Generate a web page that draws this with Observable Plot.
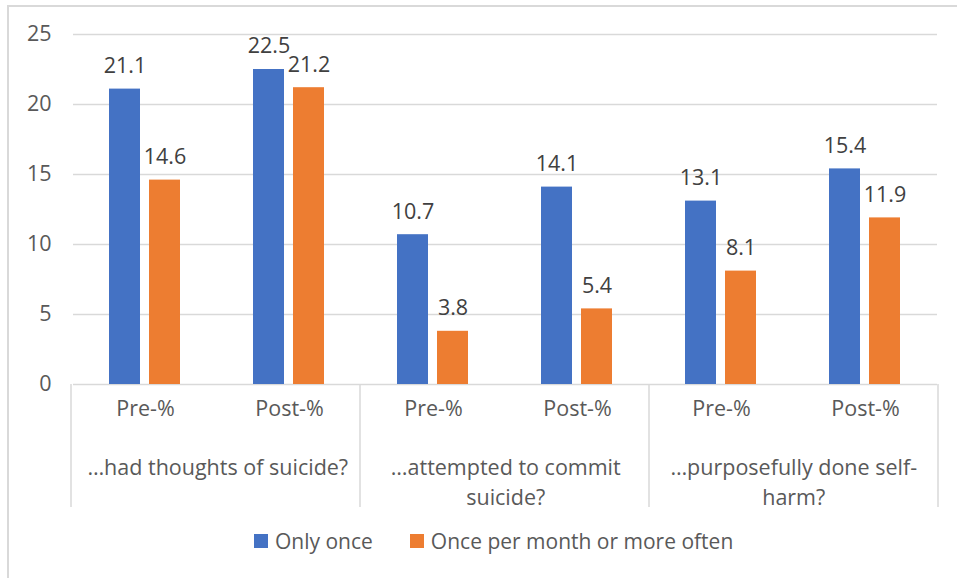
<!DOCTYPE html>
<html>
<head>
<meta charset="utf-8">
<script src="https://cdn.jsdelivr.net/npm/d3@7"></script>
<script src="https://cdn.jsdelivr.net/npm/@observablehq/plot@0.6"></script>
<style>
  html, body { margin: 0; padding: 0; background: #fff; }
  body { width: 957px; height: 578px; overflow: hidden; position: relative; font-family: "Open Sans", sans-serif; }
  #frame { position: absolute; left: 7px; top: 5px; width: 980px; height: 620px; border: 2px solid #d9d9d9; box-sizing: border-box; }
  #chart { position: absolute; left: 0; top: 0; }
  #legend { position: absolute; left: 254px; top: 527px; display: flex; align-items: center; font-size: 21px; color: #595959; white-space: nowrap; }
  #legend .item { display: flex; align-items: center; margin-right: 37px; }
  #legend .sw { width: 14px; height: 14px; margin-right: 7px; }
</style>
</head>
<body>
<div id="frame"></div>
<div id="chart"></div>
<div id="legend"></div>
<script>
// Survey question groups (category axis, outer level)
const groups = ["…had thoughts of suicide?", "…attempted to commit\nsuicide?", "…purposefully done self-\nharm?"];
// Inner level of the category axis
const periods = ["Pre-%", "Post-%"];
// Series
const seriesNames = ["Only once", "Once per month or more often"];
const seriesColors = ["#4472C4", "#ED7D31"];
// Values, in order: group 1 Pre, group 1 Post, group 2 Pre, ...
const onlyOnce = [21.1, 22.5, 10.7, 14.1, 13.1, 15.4];
const monthlyOrMore = [14.6, 21.2, 3.8, 5.4, 8.1, 11.9];
// Value axis ticks
const yTicks = [0, 5, 10, 15, 20, 25];

// Build tidy rows
const cats = [];
groups.forEach((g, gi) => periods.forEach((p, pi) => cats.push({key: `${gi}-${pi}`, group: g, period: p, gi, pi})));
const rows = [];
cats.forEach((c, i) => {
  rows.push({key: c.key, series: seriesNames[0], value: onlyOnce[i]});
  rows.push({key: c.key, series: seriesNames[1], value: monthlyOrMore[i]});
});
const groupRows = cats.filter(c => c.pi === 0);

const W = 957, H = 578, mL = 71, mR = 19, mT = 34, mB = 194;
const facetW = (W - mL - mR) / cats.length;
const FS = 21.5;

const chart = Plot.plot({
  width: W,
  height: H,
  marginLeft: mL,
  marginRight: mR,
  marginTop: mT,
  marginBottom: mB,
  style: {fontFamily: "'Open Sans', sans-serif", fontSize: `${FS}px`, color: "#595959", background: "transparent", overflow: "visible"},
  fx: {domain: cats.map(c => c.key), padding: 0, axis: null},
  x: {domain: seriesNames, paddingInner: 0.2195, paddingOuter: 0.872, axis: null},
  y: {domain: [0, 25], axis: null},
  color: {domain: seriesNames, range: seriesColors},
  marks: [
    Plot.ruleY(yTicks, {stroke: "#d9d9d9", strokeWidth: 1.5}),
    Plot.barY(rows, {fx: "key", x: "series", y: "value", fill: "series"}),
    Plot.text(rows, {fx: "key", x: "series", y: "value", text: d => d.value.toFixed(1), dy: -23, fill: "#404040", fontSize: FS}),
    Plot.axisY({ticks: yTicks, label: null, tickSize: 0, tickPadding: 22, fontSize: FS, fill: "#595959"}),
    Plot.text(cats, {fx: "key", text: "period", frameAnchor: "bottom", dy: 31, fill: "#595959", fontSize: FS}),
    Plot.text(groupRows, {fx: "key", text: "group", frameAnchor: "bottom", dx: facetW / 2, dy: 70, lineAnchor: "top", lineHeight: 1.36, fill: "#595959", fontSize: FS})
  ]
});

// Dividers between the question groups, below the value axis
const fxd = chart.scale("fx");
const fx = d3.scaleBand().domain(fxd.domain).range(fxd.range).paddingInner(0).paddingOuter(0);
const edges = groupRows.map(c => fx(c.key)).concat([fx(cats[cats.length - 1].key) + fx.bandwidth()]);
d3.select(chart).append("g")
  .attr("stroke", "#d9d9d9")
  .attr("stroke-width", 1.5)
  .selectAll("line")
  .data(edges)
  .join("line")
  .attr("x1", d => d).attr("x2", d => d)
  .attr("y1", H - mB).attr("y2", H - mB + 123);

document.getElementById("chart").append(chart);

// Legend
const legend = d3.select("#legend");
seriesNames.forEach((s, i) => {
  const item = legend.append("div").attr("class", "item");
  item.append("div").attr("class", "sw").style("background", seriesColors[i]);
  item.append("span").text(s);
});
</script>
</body>
</html>
